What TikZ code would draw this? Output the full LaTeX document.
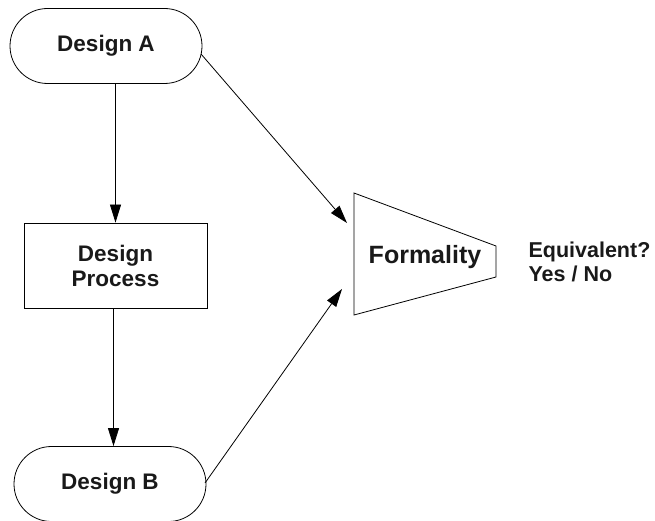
\documentclass[tikz,border=0pt]{standalone}
\usepackage{fontspec}
\setmainfont{Liberation Sans}
\usetikzlibrary{shapes.misc,arrows.meta}
\begin{document}
\begin{tikzpicture}[x=1pt,y=-1pt,
  every node/.style={font=\bfseries\fontsize{22.5}{25}\selectfont, text=black!90},
  stadium/.style={draw, line width=0.8pt, rounded rectangle, minimum width=192pt, minimum height=75pt, inner sep=0pt},
  procbox/.style={draw, line width=0.8pt, rectangle, minimum width=183pt, minimum height=85pt, align=center, inner sep=0pt},
  conn/.style={line width=0.8pt, -{Triangle[length=18pt,width=11pt]}}]
\useasboundingbox (0,0) rectangle (655,521);
\node[stadium] (a) at (106,46) {Design A};
\node[procbox] (p) at (115.5,265.5) {Design\\Process};
\node[stadium] (b) at (110,484) {Design B};
\coordinate (f1) at (354,193);
\coordinate (f2) at (496,246);
\coordinate (f3) at (496,277);
\coordinate (f4) at (354,315);
\draw[line width=0.8pt] (f1) -- (f2) -- (f3) -- (f4) -- cycle;
\node[font=\bfseries\fontsize{25}{28}\selectfont] (f) at (425,257) {Formality};
\node[align=left, anchor=west, font=\bfseries\fontsize{21.5}{24}\selectfont] (eq) at (525,262) {Equivalent?\\Yes / No};
\coordinate (ta) at (347,223);
\coordinate (tb) at (342,289);
\coordinate (sa) at (201,54);
\coordinate (sb) at (205,483);
\draw[conn] (p.north |- a.south) -- (p.north);
\draw[conn] ([xshift=-2pt]p.south) -- ([xshift=-2pt]p.south |- b.north);
\draw[conn] (sa) -- (ta);
\draw[conn] (sb) -- (tb);
\end{tikzpicture}
\end{document}
